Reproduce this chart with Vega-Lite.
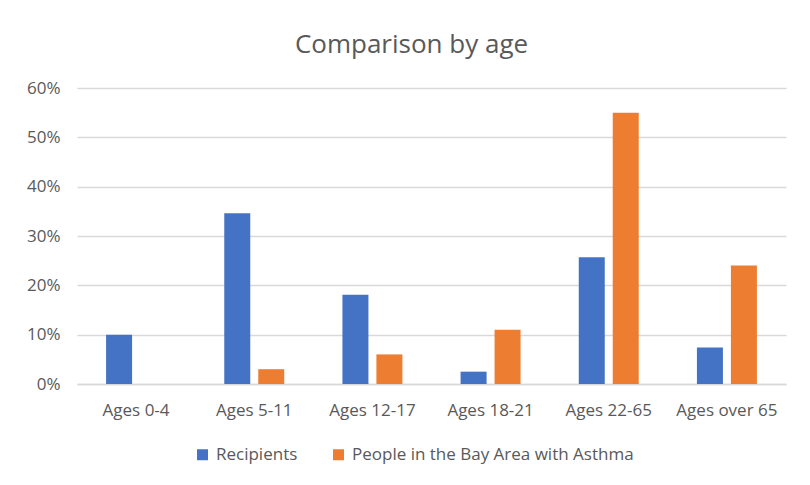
{
  "$schema": "https://vega.github.io/schema/vega-lite/v6.json",
  "width": 709,
  "height": 296,
  "autosize": {"type": "none"},
  "padding": {"left": 77, "top": 88, "right": 24, "bottom": 101},
  "background": "white",
  "title": {
    "text": "Comparison by age",
    "font": "Open Sans",
    "fontSize": 26,
    "fontWeight": "normal",
    "color": "#595959",
    "anchor": "middle",
    "dx": -20,
    "offset": 21
  },
  "data": {
    "values": [
      {"age": "Ages 0-4", "group": "Recipients", "share": 0.10},
      {"age": "Ages 0-4", "group": "People in the Bay Area with Asthma", "share": 0.0},
      {"age": "Ages 5-11", "group": "Recipients", "share": 0.346},
      {"age": "Ages 5-11", "group": "People in the Bay Area with Asthma", "share": 0.03},
      {"age": "Ages 12-17", "group": "Recipients", "share": 0.181},
      {"age": "Ages 12-17", "group": "People in the Bay Area with Asthma", "share": 0.06},
      {"age": "Ages 18-21", "group": "Recipients", "share": 0.025},
      {"age": "Ages 18-21", "group": "People in the Bay Area with Asthma", "share": 0.11},
      {"age": "Ages 22-65", "group": "Recipients", "share": 0.257},
      {"age": "Ages 22-65", "group": "People in the Bay Area with Asthma", "share": 0.55},
      {"age": "Ages over 65", "group": "Recipients", "share": 0.074},
      {"age": "Ages over 65", "group": "People in the Bay Area with Asthma", "share": 0.24}
    ]
  },
  "mark": {"type": "bar"},
  "encoding": {
    "x": {
      "field": "age",
      "type": "nominal",
      "sort": null,
      "scale": {"paddingInner": 0, "paddingOuter": 0},
      "axis": {
        "title": null,
        "labelAngle": 0,
        "labelFont": "Open Sans",
        "labelFontSize": 17,
        "labelColor": "#595959",
        "labelPadding": 18,
        "ticks": false,
        "domain": true,
        "domainColor": "#d9d9d9",
        "domainWidth": 1.5
      }
    },
    "xOffset": {
      "field": "group",
      "type": "nominal",
      "sort": ["Recipients", "People in the Bay Area with Asthma"],
      "scale": {"paddingInner": 0.235, "paddingOuter": 0.856}
    },
    "y": {
      "field": "share",
      "type": "quantitative",
      "scale": {"domain": [0, 0.6], "nice": false},
      "axis": {
        "title": null,
        "format": ".0%",
        "values": [0, 0.1, 0.2, 0.3, 0.4, 0.5, 0.6],
        "labelFont": "Open Sans",
        "labelFontSize": 17,
        "labelColor": "#595959",
        "labelPadding": 17,
        "ticks": false,
        "domain": false,
        "grid": true,
        "gridColor": "#d9d9d9",
        "gridWidth": 1.5
      }
    },
    "color": {
      "field": "group",
      "type": "nominal",
      "scale": {
        "domain": ["Recipients", "People in the Bay Area with Asthma"],
        "range": ["#4472C4", "#ED7D31"]
      },
      "legend": {
        "title": null,
        "orient": "none",
        "direction": "horizontal",
        "legendX": 117,
        "legendY": 358,
        "symbolType": "square",
        "symbolSize": 121,
        "symbolStrokeWidth": 0,
        "symbolOpacity": 1,
        "labelFont": "Open Sans",
        "labelFontSize": 17,
        "labelColor": "#595959",
        "labelOffset": 5,
        "labelLimit": 400,
        "columnPadding": 32
      }
    }
  },
  "config": {
    "view": {"stroke": null}
  }
}
